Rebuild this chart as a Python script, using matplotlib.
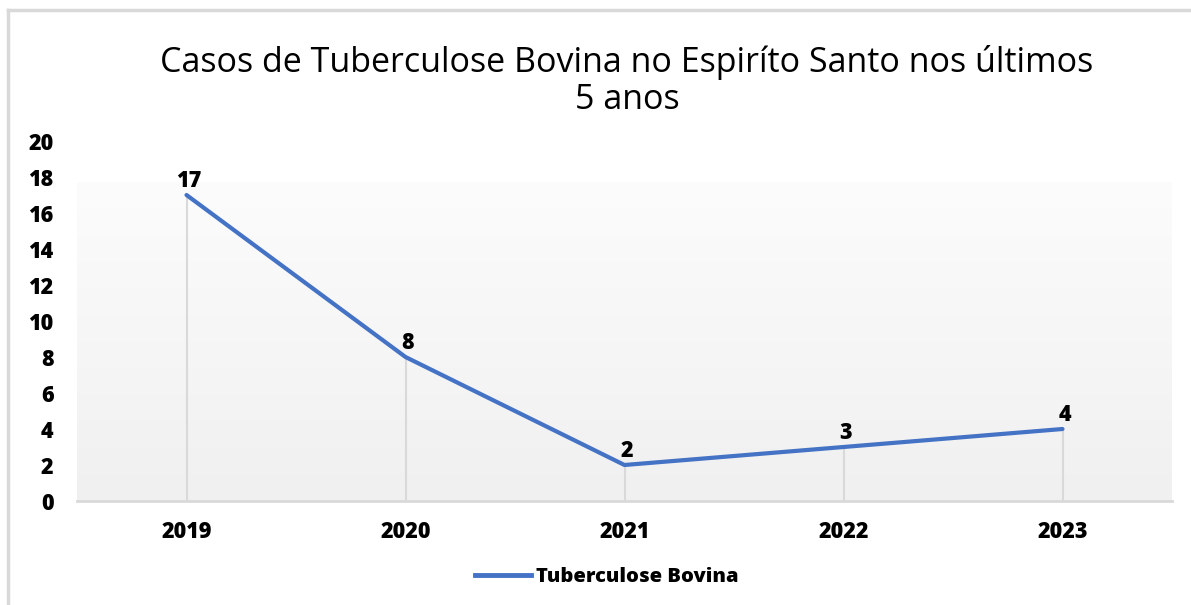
import matplotlib
matplotlib.use("Agg")
import matplotlib.pyplot as plt
import numpy as np
from matplotlib.lines import Line2D

years = ["2019", "2020", "2021", "2022", "2023"]
cases = [17, 8, 2, 3, 4]
yticks = [0, 2, 4, 6, 8, 10, 12, 14, 16, 18, 20]
title = "Casos de Tuberculose Bovina no Espiríto Santo nos últimos\n5 anos"
series_name = "Tuberculose Bovina"

W, H = 1191, 605
fig = plt.figure(figsize=(W / 100, H / 100), dpi=100)
fig.patch.set_facecolor("white")

# outer chart border (left and top)
fig.add_artist(Line2D([8 / W, 8 / W], [0, 1 - 10 / H], color="#d9d9d9", lw=2.5))
fig.add_artist(Line2D([8 / W, 1], [1 - 10 / H, 1 - 10 / H], color="#d9d9d9", lw=2.5))

left, right = 77 / W, 1172 / W
bottom, top = 1 - 501 / H, 1 - 141 / H
ax = fig.add_axes([left, bottom, right - left, top - bottom])
ax.set_xlim(-0.5, len(years) - 0.5)
ax.set_ylim(0, 20)

# plot-area gradient background (starts at ~17.7)
grad_top = 17.7
grad = np.linspace(0, 1, 256).reshape(-1, 1)
cmap = matplotlib.colors.LinearSegmentedColormap.from_list("g", ["#f0f0f0", "#fcfcfc"])
ax.imshow(grad, extent=[-0.5, len(years) - 0.5, 0, grad_top], origin="lower",
          aspect="auto", cmap=cmap, zorder=0)
ax.set_facecolor("white")

bold = dict(family="Open Sans", fontweight="heavy")

x = np.arange(len(years))
ax.vlines(x, 0, cases, color="#d9d9d9", lw=1.5, zorder=1)
ax.plot(x, cases, color="#4472C4", lw=3, zorder=3, solid_capstyle="round")
for xi, v in zip(x, cases):
    ax.text(xi + 0.01, v + 0.1, str(v), ha="center", va="bottom",
            fontsize=15.5, zorder=4, **bold)

for s in ["left", "right", "top"]:
    ax.spines[s].set_visible(False)
ax.spines["bottom"].set_color("#d9d9d9")
ax.spines["bottom"].set_linewidth(2)
ax.spines["bottom"].set_zorder(5)

ax.set_xticks(x)
ax.set_xticklabels(years, fontsize=15.5, **bold)
ax.set_yticks(yticks)
ax.set_yticklabels([str(t) for t in yticks], fontsize=15.5, **bold)
ax.tick_params(axis="both", length=0)
ax.tick_params(axis="x", pad=14)
ax.tick_params(axis="y", pad=17)

fig.text(627 / W, 1 - 81 / H, title, ha="center", va="center", fontsize=24.5,
         family="Open Sans", linespacing=1.1)

h = Line2D([0], [0], color="#4472C4", lw=3.5)
fig.legend([h], [series_name], loc="center", bbox_to_anchor=(607 / W, 1 - 577 / H),
           frameon=False, prop={"family": "Open Sans", "weight": "heavy", "size": 14.5},
           handlelength=2.8, handletextpad=0.25)

fig.savefig("out.png", dpi=100, facecolor="white")
